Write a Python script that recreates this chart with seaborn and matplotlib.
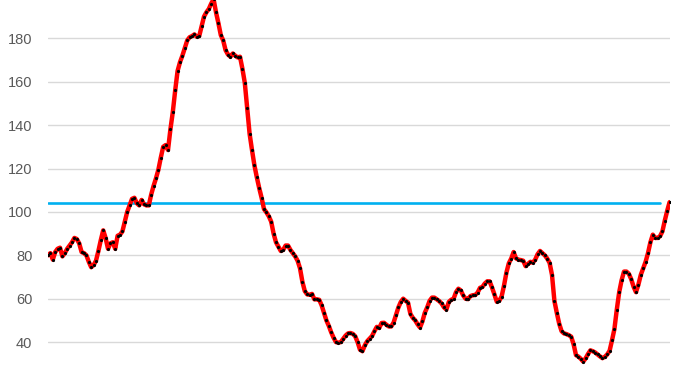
import numpy as np
import pandas as pd
import matplotlib
matplotlib.use("Agg")
import matplotlib.pyplot as plt
import seaborn as sns

# ---- data ----
values = [
    80, 81, 78, 81.5, 83, 83.5, 79.5, 81, 83, 84.5,
    86, 88, 87.5, 85.5, 81.5, 81, 80, 77, 74.5, 75.5,
    77.5, 82, 87, 91.5, 88, 83, 85.5, 86, 83, 89,
    89.5, 91, 95.5, 100, 103, 106, 106.5, 104, 103, 105.5,
    103.5, 103, 103, 108, 112, 115.5, 119.5, 125, 130, 130.8,
    128.5, 138, 146, 156, 165, 169, 172, 175.5, 179, 180.5,
    181, 181.8, 180.7, 181, 185.5, 190, 192, 193.5, 196, 198,
    192, 187, 181.5, 179, 174.5, 172.5, 171.5, 173, 172, 171.2,
    171.5, 166, 159.5, 148, 136, 128.5, 121.5, 116, 111, 106.5,
    101.3, 99.8, 98, 95.5, 90, 86, 84, 82, 82.5, 84.5,
    84.5, 82.5, 81, 79.5, 77.5, 74, 67.8, 63.5, 62, 61.8,
    62.2, 59.7, 59.7, 59.5, 57, 53.5, 50, 47.5, 44.5, 42,
    40, 39.7, 40, 41.5, 43, 44, 44.2, 43.8, 42.7, 40,
    36.5, 35.8, 38.5, 40.4, 41.6, 42.8, 45, 47, 46.5, 48.8,
    48.9, 48, 47.2, 47.2, 49, 52.5, 56, 58.5, 60, 59,
    58.2, 53, 51.2, 50, 48.2, 46.7, 49.5, 53.5, 56, 59,
    60.5, 60.5, 59.7, 58.9, 57.8, 56, 55, 58.5, 59.5, 60,
    63, 64.6, 63.8, 61.5, 60, 59.8, 61.2, 61.6, 61.7, 62.8,
    65, 65.4, 67, 68, 68, 65.2, 62, 58.6, 59, 61,
    66, 72, 76.3, 78.5, 81.5, 78.6, 78, 77.8, 77.5, 75,
    76, 77, 76.6, 78, 80.5, 82, 81, 80, 78.5, 76.5,
    71, 59, 53.5, 48.5, 45, 44, 43.7, 43.2, 42.5, 39,
    34, 33.3, 32.3, 31, 32.5, 34.5, 36.2, 35.8, 35.2, 34.3,
    33.4, 32.6, 33.2, 34.3, 36, 40.8, 46, 55, 63, 68.5,
    72.5, 72.5, 71.5, 69, 65.5, 63, 66.5, 71, 74, 77,
    81, 86, 89.5, 88, 88, 88.8, 91, 96, 100.5, 104.5,
]
periods = list(range(len(values)))
benchmark_value = 104
benchmark_periods = periods[:-4]
benchmark = [benchmark_value] * len(benchmark_periods)
y_ticks = [20, 40, 60, 80, 100, 120, 140, 160, 180]

df = pd.DataFrame({"period": periods, "value": values})
df_b = pd.DataFrame({"period": benchmark_periods, "value": benchmark})

# ---- figure ----
sns.set_theme(style="white")
plt.rcParams["font.family"] = ["Liberation Sans", "DejaVu Sans"]

W, H = 678, 381
fig = plt.figure(figsize=(W / 100, H / 100), dpi=100)
px_per_unit = 2.17
ax_h_px = 400
left_px, right_px = 48, 669.6
ax = fig.add_axes([left_px / W, (H - ax_h_px) / H, (right_px - left_px) / W, ax_h_px / H])

top_val = 180 + 38.3 / px_per_unit
bottom_val = top_val - ax_h_px / px_per_unit

sns.lineplot(data=df_b, x="period", y="value", ax=ax, color="#00b0f0",
             linewidth=1.9, zorder=2)
sns.lineplot(data=df, x="period", y="value", ax=ax, color="#ff0000",
             linewidth=3.2, marker="o", markersize=2.3,
             markerfacecolor="black", markeredgecolor="black",
             markeredgewidth=0, zorder=3)

ax.set_yticks(y_ticks)
ax.set_xticks([])
ax.set_xlim(0, len(values) - 1)
ax.set_ylim(bottom_val, top_val)
ax.grid(axis="y", color="#d9d9d9", linewidth=1.0)
ax.set_axisbelow(True)
for s in ax.spines.values():
    s.set_visible(False)
ax.tick_params(axis="y", length=0, pad=11.3, labelsize=10.5, labelcolor="#595959")
ax.set_xlabel("")
ax.set_ylabel("")
ax.patch.set_alpha(0)

fig.savefig("out.png", dpi=100)
